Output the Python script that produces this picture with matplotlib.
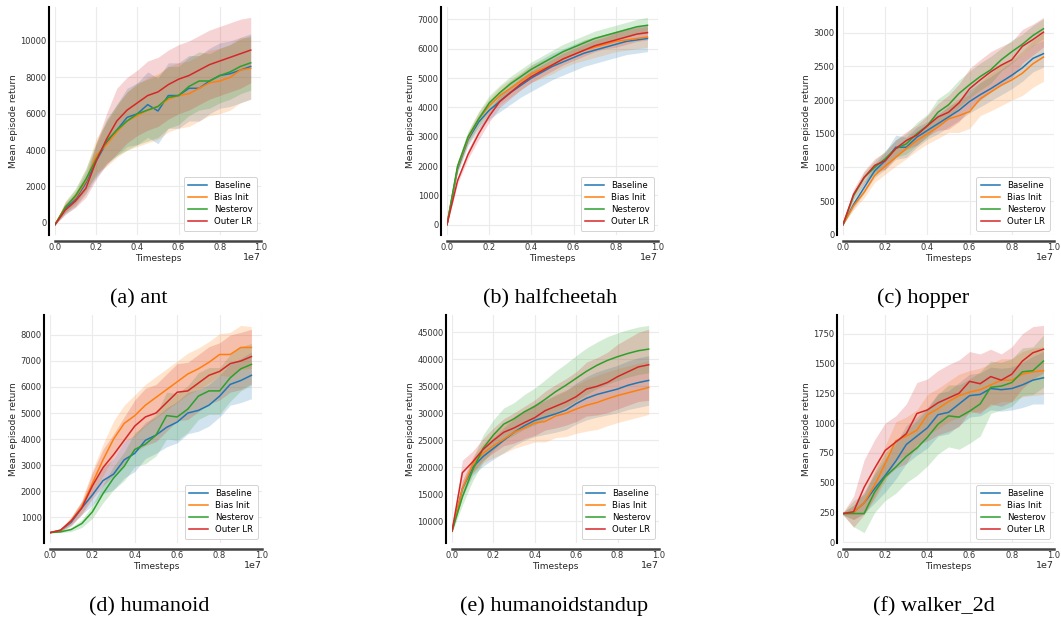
import numpy as np
import matplotlib
matplotlib.use("Agg")
import matplotlib.pyplot as plt
from matplotlib.ticker import MultipleLocator

# --- Data --- #
timesteps = np.arange(20) * 0.5e6
methods = ["Baseline", "Bias Init", "Nesterov", "Outer LR"]
colors = ["#1f77b4", "#ff7f0e", "#2ca02c", "#d62728"]

ant_mean = [
    [-100, 800, 1300, 2200, 3400, 4400, 5100, 5800, 6000, 6500, 6150, 7000, 7000, 7400, 7400, 7800, 8100, 8200, 8400, 8600],
    [-100, 900, 1400, 2300, 3700, 4300, 5000, 5600, 5900, 6200, 6400, 6800, 7000, 7100, 7400, 7700, 7800, 8000, 8400, 8500],
    [-100, 850, 1500, 2400, 3500, 4500, 5100, 5600, 6000, 6200, 6400, 6900, 7000, 7500, 7800, 7800, 8100, 8300, 8600, 8800],
    [-100, 700, 1200, 1900, 3400, 4600, 5600, 6200, 6600, 7000, 7200, 7600, 7900, 8100, 8400, 8700, 8900, 9100, 9300, 9500],
]
ant_std = [
    [0, 300, 400, 600, 900, 1200, 1400, 1600, 1700, 1800, 1800, 1800, 1800, 1800, 1800, 1800, 1800, 1800, 1800, 1800],
    [0, 300, 450, 650, 950, 1200, 1400, 1600, 1700, 1800, 1800, 1800, 1800, 1800, 1800, 1800, 1800, 1800, 1800, 1700],
    [0, 300, 400, 600, 900, 1200, 1400, 1600, 1700, 1700, 1700, 1700, 1600, 1600, 1600, 1500, 1500, 1500, 1500, 1500],
    [0, 250, 350, 500, 1000, 1400, 1800, 1800, 1800, 1900, 1900, 1900, 1900, 1900, 1900, 1900, 1900, 1900, 1900, 1800],
]

halfcheetah_mean = [
    [0, 1900, 2900, 3500, 3900, 4200, 4500, 4750, 5000, 5200, 5400, 5550, 5700, 5850, 5950, 6050, 6150, 6250, 6300, 6350],
    [0, 1950, 2950, 3600, 4050, 4400, 4650, 4900, 5150, 5300, 5450, 5650, 5800, 5950, 6050, 6150, 6250, 6300, 6350, 6400],
    [0, 2000, 3000, 3600, 4150, 4500, 4800, 5050, 5300, 5500, 5700, 5900, 6050, 6200, 6350, 6450, 6550, 6650, 6750, 6800],
    [0, 1500, 2400, 3100, 3700, 4200, 4500, 4800, 5050, 5250, 5450, 5650, 5800, 5950, 6100, 6200, 6300, 6400, 6500, 6550],
]
halfcheetah_std = [
    [0, 150, 200, 250, 300, 350, 400, 400, 450, 450, 450, 450, 450, 450, 450, 450, 450, 450, 450, 450],
    [0, 150, 200, 250, 250, 300, 300, 300, 300, 300, 300, 300, 300, 350, 350, 350, 350, 350, 350, 350],
    [0, 150, 200, 250, 250, 250, 250, 250, 250, 250, 250, 250, 250, 250, 250, 250, 250, 250, 250, 270],
    [0, 100, 150, 200, 200, 200, 200, 200, 200, 200, 200, 200, 200, 200, 200, 200, 250, 250, 250, 250],
]

hopper_mean = [
    [150, 450, 700, 950, 1100, 1300, 1300, 1450, 1550, 1650, 1750, 1850, 1980, 2080, 2170, 2270, 2370, 2480, 2620, 2690],
    [150, 430, 630, 880, 1020, 1150, 1280, 1400, 1500, 1600, 1720, 1770, 1830, 2020, 2120, 2220, 2300, 2400, 2540, 2640],
    [150, 580, 850, 1000, 1130, 1280, 1350, 1500, 1620, 1820, 1930, 2100, 2230, 2350, 2450, 2600, 2720, 2830, 2960, 3060],
    [150, 600, 850, 1030, 1100, 1280, 1400, 1480, 1620, 1750, 1820, 1960, 2170, 2300, 2420, 2520, 2600, 2800, 2900, 3010],
]
hopper_std = [
    [0, 60, 80, 100, 130, 180, 150, 150, 130, 150, 150, 150, 170, 180, 180, 190, 200, 200, 200, 200],
    [0, 60, 80, 100, 120, 130, 150, 150, 150, 170, 200, 250, 250, 250, 280, 300, 300, 330, 350, 360],
    [0, 60, 80, 100, 120, 130, 150, 170, 170, 200, 200, 200, 200, 200, 200, 170, 170, 150, 150, 150],
    [0, 80, 100, 100, 130, 130, 130, 150, 150, 200, 250, 280, 300, 300, 300, 280, 270, 250, 230, 220],
]

humanoid_mean = [
    [400, 480, 800, 1350, 1850, 2400, 2650, 3200, 3450, 3950, 4150, 4450, 4650, 5000, 5100, 5300, 5650, 6100, 6250, 6450],
    [400, 480, 850, 1400, 2300, 3200, 4000, 4600, 4900, 5300, 5600, 5900, 6200, 6500, 6700, 6950, 7250, 7250, 7520, 7520],
    [400, 430, 520, 750, 1200, 1900, 2500, 2950, 3600, 3800, 4150, 4900, 4850, 5150, 5650, 5850, 5850, 6350, 6700, 6870],
    [400, 500, 850, 1350, 2200, 2900, 3400, 3950, 4500, 4850, 5000, 5400, 5800, 5850, 6150, 6450, 6600, 6900, 7000, 7170],
]
humanoid_std = [
    [0, 50, 150, 250, 400, 500, 600, 700, 700, 700, 700, 750, 800, 800, 800, 800, 800, 800, 850, 900],
    [0, 50, 150, 250, 500, 600, 700, 700, 800, 800, 800, 800, 800, 800, 800, 800, 800, 850, 850, 800],
    [0, 30, 80, 150, 250, 350, 450, 550, 650, 750, 800, 900, 900, 900, 900, 900, 900, 900, 850, 800],
    [0, 50, 150, 250, 500, 700, 800, 900, 1000, 1100, 1100, 1100, 1100, 1100, 1100, 1100, 1100, 1100, 1100, 1050],
]

humanoidstandup_mean = [
    [8200, 16000, 20000, 22000, 23500, 25000, 26500, 27700, 28700, 29300, 29900, 30600, 31800, 32800, 33500, 34000, 34500, 35200, 35700, 36100],
    [8200, 16000, 20500, 22600, 24000, 25200, 26500, 27300, 28200, 28500, 29500, 30000, 30800, 31500, 32000, 32700, 33300, 33800, 34300, 34800],
    [8200, 14500, 19500, 23500, 26000, 28000, 29000, 30300, 31300, 32600, 34000, 35200, 36500, 37800, 38900, 39800, 40500, 41100, 41600, 41900],
    [8200, 19000, 21000, 23300, 25000, 26500, 27300, 28300, 29200, 30500, 31300, 32100, 33100, 34500, 35000, 35700, 36800, 37700, 38600, 39000],
]
humanoidstandup_std = [
    [300, 1500, 1500, 1800, 2000, 2300, 2500, 2700, 3000, 3200, 3400, 3600, 3800, 4000, 4200, 4300, 4400, 4500, 4600, 4600],
    [300, 1500, 1500, 1800, 2200, 2600, 3000, 3200, 3500, 3800, 4000, 4300, 4500, 4800, 5000, 5000, 5000, 5000, 5000, 5000],
    [300, 1500, 2000, 2500, 2800, 3000, 3000, 3200, 3400, 3600, 3800, 4000, 4200, 4300, 4300, 4400, 4400, 4400, 4400, 4400],
    [300, 2300, 2000, 2000, 2300, 2500, 2800, 3000, 3300, 3600, 4000, 4300, 4600, 5000, 5300, 5600, 6000, 6200, 6400, 6600],
]

walker_2d_mean = [
    [240, 250, 330, 450, 560, 680, 820, 890, 960, 1070, 1090, 1160, 1230, 1240, 1290, 1280, 1290, 1320, 1360, 1380],
    [240, 250, 330, 480, 660, 850, 890, 940, 1070, 1120, 1180, 1230, 1260, 1280, 1320, 1360, 1360, 1410, 1430, 1440],
    [240, 240, 240, 420, 550, 630, 720, 790, 880, 990, 1060, 1050, 1100, 1160, 1300, 1310, 1340, 1430, 1440, 1520],
    [240, 255, 460, 620, 770, 840, 910, 1080, 1110, 1170, 1210, 1250, 1350, 1330, 1390, 1360, 1410, 1520, 1590, 1620],
]
walker_2d_std = [
    [10, 60, 90, 120, 140, 150, 160, 160, 170, 180, 180, 180, 180, 180, 180, 180, 180, 190, 200, 220],
    [10, 60, 90, 120, 150, 160, 160, 170, 170, 170, 170, 180, 180, 180, 180, 180, 180, 190, 200, 200],
    [10, 110, 160, 170, 200, 220, 220, 230, 240, 250, 260, 270, 270, 270, 220, 200, 200, 200, 200, 220],
    [10, 130, 230, 240, 230, 220, 250, 260, 260, 270, 280, 280, 250, 250, 230, 220, 230, 230, 220, 200],
]

envs = ["ant", "halfcheetah", "hopper", "humanoid", "humanoidstandup", "walker_2d"]
letters = ["a", "b", "c", "d", "e", "f"]
means = [ant_mean, halfcheetah_mean, hopper_mean, humanoid_mean, humanoidstandup_mean, walker_2d_mean]
stds = [ant_std, halfcheetah_std, hopper_std, humanoid_std, humanoidstandup_std, walker_2d_std]
ytick_steps = [2000, 1000, 500, 1000, 5000, 250]

# --- Layout (pixel boxes: x0, x1, ytop, ybottom) --- #
W, H = 1061, 621
boxes = [
    (55, 261, 7, 235), (447, 658, 7, 235), (843, 1054, 7, 235),
    (50, 262, 315, 543), (452, 659, 315, 543), (843, 1054, 315, 543),
]
captions_xy = [(139, 303), (550, 303), (923, 303), (149, 611), (554, 611), (934, 611)]

fig = plt.figure(figsize=(W / 100, H / 100), dpi=100)

for i, env in enumerate(envs):
    x0, x1, yt, yb = boxes[i]
    ax = fig.add_axes([x0 / W, 1 - yb / H, (x1 - x0) / W, (yb - yt) / H])

    for j, name in enumerate(methods):
        m = np.array(means[i][j], dtype=float)
        s = np.array(stds[i][j], dtype=float)
        ax.fill_between(timesteps, m - s, m + s, color=colors[j], alpha=0.2, lw=0)
        ax.plot(timesteps, m, color=colors[j], lw=1.1, label=name)

    ax.set_xlim(0, 1e7)
    ax.yaxis.set_major_locator(MultipleLocator(ytick_steps[i]))
    ax.grid(True, color="#ebebeb", lw=0.8)
    ax.set_axisbelow(True)
    ax.tick_params(length=0, labelsize=6, colors="#333333", pad=1.5)

    # exponent drawn by hand so it sits level with the x label
    ax.xaxis.get_offset_text().set_visible(False)
    ax.text(1.0, -0.11, "1e7", transform=ax.transAxes, ha="right", va="baseline",
            fontsize=6.8, color="#262626")
    ax.set_xlabel("Timesteps", fontsize=6.5, labelpad=1, color="#262626")
    ax.set_ylabel("Mean episode return", fontsize=6.5, labelpad=2, color="#262626")

    for side in ["top", "right"]:
        ax.spines[side].set_visible(False)
    ax.spines["left"].set_position(("outward", 4.5))
    ax.spines["bottom"].set_position(("outward", 4.5))
    ax.spines["left"].set_color("black")
    ax.spines["left"].set_linewidth(1.5)
    ax.spines["bottom"].set_color("#444444")
    ax.spines["bottom"].set_linewidth(1.8)

    leg = ax.legend(loc="lower right", fontsize=6.2, handlelength=2.2, borderpad=0.5,
                    labelspacing=0.35, framealpha=1)
    leg.get_frame().set_edgecolor("#cccccc")
    leg.get_frame().set_linewidth(0.6)

    cx, cy = captions_xy[i]
    fig.text(cx / W, 1 - cy / H, f"({letters[i]}) {env}", ha="center", va="baseline",
             fontsize=16, family="Liberation Serif")

fig.savefig("out.png", dpi=100)
